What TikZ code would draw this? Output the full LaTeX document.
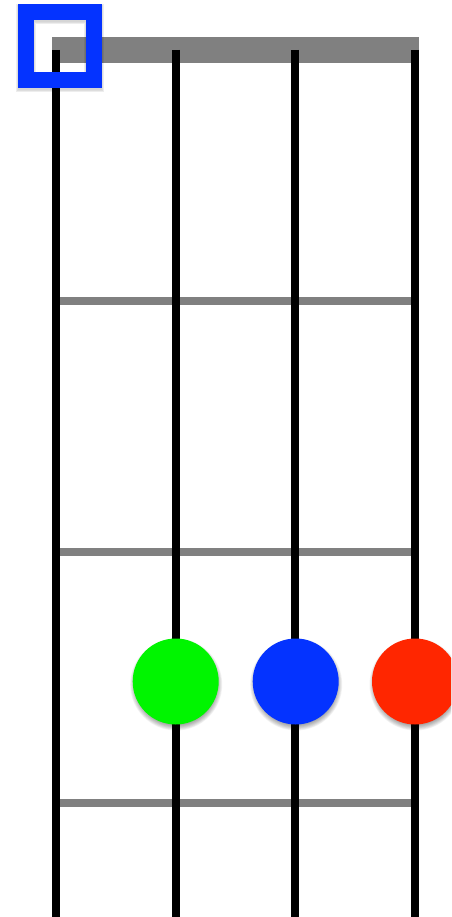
\documentclass[tikz,border=0pt]{standalone}
\usetikzlibrary{calc}
\definecolor{fretgray}{HTML}{808080}
\definecolor{dotgreen}{HTML}{00F500}
\definecolor{dotblue}{HTML}{0433FF}
\definecolor{dotred}{HTML}{FF2600}
\tikzset{
  stringline/.style={line width=8pt, black},
  fretline/.style={line width=8pt, fretgray},
  nutbar/.style={fill=fretgray},
  fingerdot/.style={circle, minimum size=86pt, inner sep=0pt},
  shadowlayer/.style={black, opacity=0.05},
}
\begin{document}
\begin{tikzpicture}[x=1pt,y=-1pt]
\useasboundingbox (0,0) rectangle (451,917);
\clip (0,0) rectangle (451,917);
% nut
\fill[nutbar] (52,37) rectangle (419,63);
% frets
\foreach \y in {301,552,803}{
  \draw[fretline] (56,\y) -- (415,\y);
}
% strings
\foreach \x/\n in {56/a,175.7/b,295.3/c,415/d}{
  \coordinate (top\n) at (\x,50);
  \coordinate (bot\n) at (\x,917);
  \draw[stringline] (top\n) -- (bot\n);
}
% dots
\coordinate (g) at (175.7,681.5);
\coordinate (bl) at (295.7,681.5);
\coordinate (r) at (415,681.5);
\foreach \c in {g,bl,r}{
  \foreach \k in {0,...,7}{
    \fill[shadowlayer] ($(\c)+(0.5,3)$) circle ({46-0.75*\k});
  }
}
\node[fingerdot, fill=dotgreen] (G) at (g) {};
\node[fingerdot, fill=dotblue] (B) at (bl) {};
\node[fingerdot, fill=dotred] (R) at (r) {};
% blue square marker
\foreach \k in {0,...,4}{
  \draw[black, opacity=0.035, line width={16+1.2*\k}] (26,14) rectangle (94,82);
}
\draw[dotblue, line width=16pt] (26,12) rectangle (94,80);
\end{tikzpicture}
\end{document}
